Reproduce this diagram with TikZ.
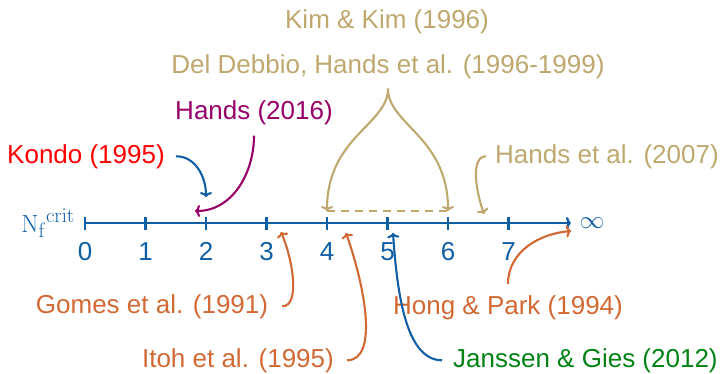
\documentclass[tikz,border=0pt]{standalone}
\usepackage[no-math]{fontspec}
\setmainfont{Liberation Sans}
\usetikzlibrary{arrows.meta}
\definecolor{axblue}{RGB}{16,94,165}
\definecolor{tanc}{RGB}{190,168,110}
\definecolor{orangec}{RGB}{210,105,52}
\definecolor{purplec}{RGB}{150,0,105}
\definecolor{greenc}{RGB}{0,130,20}
\definecolor{redc}{RGB}{255,0,0}
\begin{document}
\begin{tikzpicture}[x=1pt,y=1pt,
  lbl/.style={font=\fontsize{26}{30}\selectfont, inner sep=0pt, anchor=base},
  arr/.style={line width=2.1pt, -{To[length=5pt,width=12pt]}},
  tickmark/.style={axblue, line width=2.4pt}]
\useasboundingbox (0,0) rectangle (722,-373);
% axis
\foreach \k in {0,...,7}{
  \coordinate (t\k) at (85+60.5*\k,-223);
  \draw[tickmark] ([yshift=6.5pt]t\k) -- ([yshift=-6.5pt]t\k);
  \node[lbl, text=axblue] (n\k) at (85+60.5*\k,-260) {\k};
}
\coordinate (axend) at (571,-223);
\draw[axblue, line width=2.4pt, -{To[length=5pt,width=12pt]}] (t0) -- (axend);
\node[font=\fontsize{27}{30}\selectfont, text=axblue, inner sep=0pt] (inf) at (592,-223) {$\infty$};
\node[font=\fontsize{28}{30}\selectfont, text=axblue, inner sep=0pt, anchor=base east] (nf) at (75,-232) {$\mathrm{{N_f}^{crit}}$};
% labels
\node[lbl, text=tanc] (kim) at (387,-28) {Kim \& Kim (1996)};
\node[lbl, text=tanc] (dd) at (388,-73) {Del Debbio, Hands et al. (1996-1999)};
\node[lbl, text=purplec] (h16) at (254,-119) {Hands (2016)};
\node[lbl, text=redc] (kondo) at (86,-163) {Kondo (1995)};
\node[lbl, text=tanc, anchor=base west] (h07) at (495,-163) {Hands et al. (2007)};
\node[lbl, text=orangec] (gomes) at (152,-313) {Gomes et al. (1991)};
\node[lbl, text=orangec] (hong) at (508,-314) {Hong \& Park (1994)};
\node[lbl, text=orangec, anchor=base east] (itoh) at (334,-367) {Itoh et al. (1995)};
\node[lbl, text=greenc, anchor=base west] (jg) at (453,-367) {Janssen \& Gies (2012)};
% connectors
\draw[arr, axblue] ([xshift=11pt]kondo.east) to[out=0,in=90] ([yshift=26pt]t2);
\draw[arr, purplec] ([yshift=-11pt]h16.south) to[out=-90,in=0] ([xshift=-11pt,yshift=12pt]t2);
\draw[arr, tanc] ([yshift=-10pt]dd.south) .. controls +(0,-36) and +(0,74) .. ([yshift=12pt]t4);
\draw[arr, tanc] ([yshift=-10pt]dd.south) .. controls +(0,-36) and +(0,74) .. ([yshift=12pt]t6);
\draw[tanc, line width=2.4pt, dash pattern=on 8pt off 6pt] ([yshift=12pt]t4) -- ([yshift=12pt]t6);
\coordinate (h07end) at (484,-214);
\draw[arr, tanc] ([xshift=-9pt]h07.west) .. controls +(-14,0) and +(-10,29) .. (h07end);
\draw[arr, orangec] ([xshift=14pt]gomes.east) .. controls +(18,0) and +(12,-28) .. ([xshift=14.5pt,yshift=-9pt]t3);
\draw[arr, orangec] ([xshift=13pt]itoh.east) .. controls +(31,0) and +(20,-57) .. ([xshift=19pt,yshift=-10pt]t4);
\draw[arr, axblue] ([xshift=-11pt]jg.west) .. controls +(-37,0) and +(4,-57) .. ([xshift=5.5pt,yshift=-10pt]t5);
\draw[arr, orangec] ([yshift=11pt]hong.north) to[out=90,in=185] ([yshift=-8pt]axend);
\end{tikzpicture}
\end{document}
